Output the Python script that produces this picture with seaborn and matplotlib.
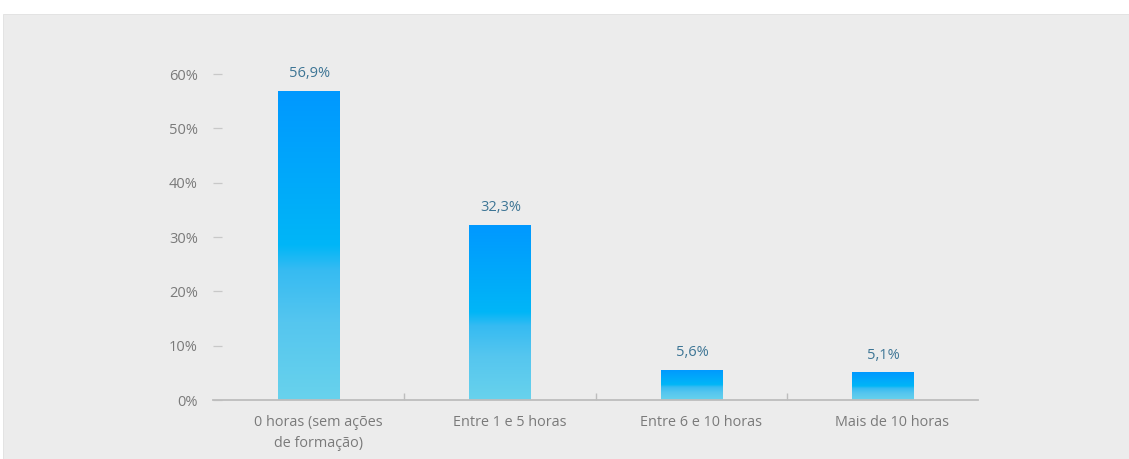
import numpy as np
import pandas as pd
import seaborn as sns
import matplotlib.pyplot as plt
import matplotlib.transforms as mtransforms
from matplotlib.colors import LinearSegmentedColormap
from matplotlib.patches import Rectangle
from matplotlib.ticker import FixedLocator

# data
categorias = ["0 horas (sem ações\nde formação)", "Entre 1 e 5 horas",
              "Entre 6 e 10 horas", "Mais de 10 horas"]
percentagens = [56.9, 32.3, 5.6, 5.1]
rotulos = ["56,9%", "32,3%", "5,6%", "5,1%"]
yticks = [0, 10, 20, 30, 40, 50, 60]

df = pd.DataFrame({"cat": categorias, "pct": percentagens})

sns.set_theme(style="white")
plt.rcParams["font.family"] = ["Open Sans", "DejaVu Sans"]

bg = "#ececec"
fig = plt.figure(figsize=(11.29, 4.59), dpi=100, facecolor="white")
fig.patches.append(Rectangle((3 / 1129, 0), 1, 445 / 459, transform=fig.transFigure,
                             facecolor=bg, edgecolor="#e0e0e0", lw=0.6, zorder=-10))
ax = fig.add_axes([213 / 1129, 59 / 459, 765 / 1129, 353 / 459])
ax.set_facecolor(bg)

sns.barplot(data=df, x="cat", y="pct", width=0.32, color="#00aaf8", ax=ax)

# vertical gradient inside each bar
grad = LinearSegmentedColormap.from_list(
    "g", [(0, "#0098ff"), (0.5, "#00b6f7"), (0.58, "#36bbf2"),
          (0.75, "#55c6ef"), (1, "#68d2ec")])
col = np.linspace(0, 1, 256).reshape(-1, 1)
for p in ax.patches:
    x0, y0 = p.get_x(), p.get_y()
    w, h = p.get_width(), p.get_height()
    im = ax.imshow(col, cmap=grad, aspect="auto", origin="upper",
                   extent=[x0, x0 + w, y0, y0 + h], zorder=2)
    im.set_clip_path(p)
    p.set_facecolor("none")
    p.set_edgecolor("none")
ax.set_xlim(-0.5, 3.5)
ax.set_ylim(0, 65)

for i, (v, t) in enumerate(zip(percentagens, rotulos)):
    ax.annotate(t, (i, v), xytext=(1, 7), textcoords="offset points",
                ha="center", va="bottom", fontsize=10.5, color="#3d7595")

for s in ["top", "right", "left"]:
    ax.spines[s].set_visible(False)
ax.spines["bottom"].set_color("#bdbdbd")
ax.spines["bottom"].set_linewidth(1.3)

ax.set_yticks(yticks)
ax.set_yticklabels([f"{v}%" for v in yticks])
ax.tick_params(axis="y", direction="in", length=6.5, width=0.9, color="#c8c8c8",
               pad=11, labelsize=10.5, labelcolor="#7a7a7a", left=True)
ax.tick_params(axis="x", length=0, pad=11, labelsize=10.4, labelcolor="#7a7a7a")
ax.xaxis.set_minor_locator(FixedLocator([0.5, 1.5, 2.5]))
ax.tick_params(axis="x", which="minor", direction="in", length=5, width=1,
               color="#bdbdbd", bottom=True)
shift = mtransforms.ScaledTranslation(0.1, 0, fig.dpi_scale_trans)
for lbl in ax.get_xticklabels():
    lbl.set_linespacing(1.5)
    lbl.set_transform(lbl.get_transform() + shift)
ax.set_xlabel("")
ax.set_ylabel("")

fig.savefig("out.png", dpi=100, facecolor="white")
